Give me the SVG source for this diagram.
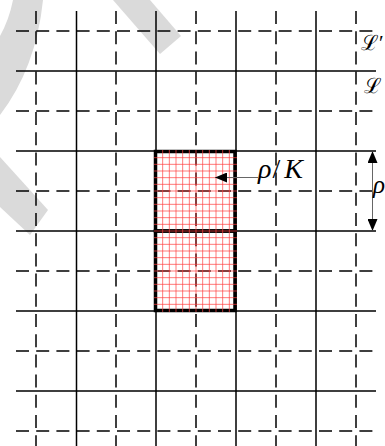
<svg xmlns="http://www.w3.org/2000/svg" width="385" height="446" viewBox="0 0 385 446">
<style>
.sol{stroke:#000;stroke-width:1.5;fill:none}
.dsh{stroke:#000;stroke-width:1.5;fill:none;stroke-dasharray:13 7.2}
.box{stroke:#000;stroke-width:3.5;fill:none}
.fine{stroke:#ff4040;stroke-width:0.7;fill:none}
.arr{stroke:#666;stroke-width:1;fill:none}
.wm{fill:#dadada;stroke:none}
.lbl{font-family:"Liberation Serif","DejaVu Serif",serif;fill:#000}
.it{font-style:italic}
</style>
<defs>
<marker id="ah" markerUnits="userSpaceOnUse" markerWidth="12" markerHeight="10" refX="12" refY="5" orient="auto-start-reverse">
<path d="M0,0 L12,5 L0,10 Z" fill="#000"/>
</marker>
</defs>
<rect width="385" height="446" fill="#fff"/>
<g id="watermark">
<path class="wm" d="M13,0 L43,0 Q36,68 0,115 L0,36 Q9,20 13,0 Z"/>
<path class="wm" d="M113,0 L150,0 L181,36 L160,54 Z"/>
<path class="wm" d="M0,157 L48,210 L30,235 L0,207 Z"/>
</g>
<g id="lattice-L-prime">
<path class="dsh" d="M16,31H376M16,111H376M16,191H376M16,271H376M16,351H376M16,431H376"/>
<path class="dsh" d="M36,11V446M116,11V446M196,11V446M276,11V446M356,11V446"/>
</g>
<g id="lattice-L">
<path class="sol" d="M16,71H376M16,151H376M16,231H376M16,311H376M16,391H376"/>
<path class="sol" d="M76.5,11V446M156,11V446M236,11V446M316,11V446"/>
</g>
<g id="cell-upper">
<rect class="box" x="155.5" y="151.5" width="79.5" height="79.5"/>
</g>
<g id="cell-lower">
<rect class="box" x="155.5" y="231" width="79.5" height="79.5"/>
</g>
<g id="fine-grid">
<path class="fine" d="M162.67,150V312M169.33,150V312M176,150V312M182.67,150V312M189.33,150V312M196,150V312M202.67,150V312M209.33,150V312M216,150V312M222.67,150V312M229.33,150V312"/>
<path class="fine" d="M154,157.67H237M154,164.33H237M154,171H237M154,177.67H237M154,184.33H237M154,191H237M154,197.67H237M154,204.33H237M154,211H237M154,217.67H237M154,224.33H237M154,231H237M154,237.67H237M154,244.33H237M154,251H237M154,257.67H237M154,264.33H237M154,271H237M154,277.67H237M154,284.33H237M154,291H237M154,297.67H237M154,304.33H237"/>
</g>
<g id="connectors">
<line class="arr" x1="258" y1="177.5" x2="215" y2="177.5" marker-end="url(#ah)"/>
<line class="arr" x1="372.5" y1="151" x2="372.5" y2="231" marker-start="url(#ah)" marker-end="url(#ah)"/>
</g>
<g id="labels">
<text class="lbl" x="258" y="178" font-size="28"><tspan class="it">ρ</tspan><tspan dx="1">/</tspan><tspan class="it" dx="4">K</tspan></text>
<text class="lbl it" x="373" y="193" font-size="25">ρ</text>
<text class="lbl" x="361" y="50" font-size="21">ℒ′</text>
<text class="lbl" x="364" y="93" font-size="21">ℒ</text>
</g>
</svg>
